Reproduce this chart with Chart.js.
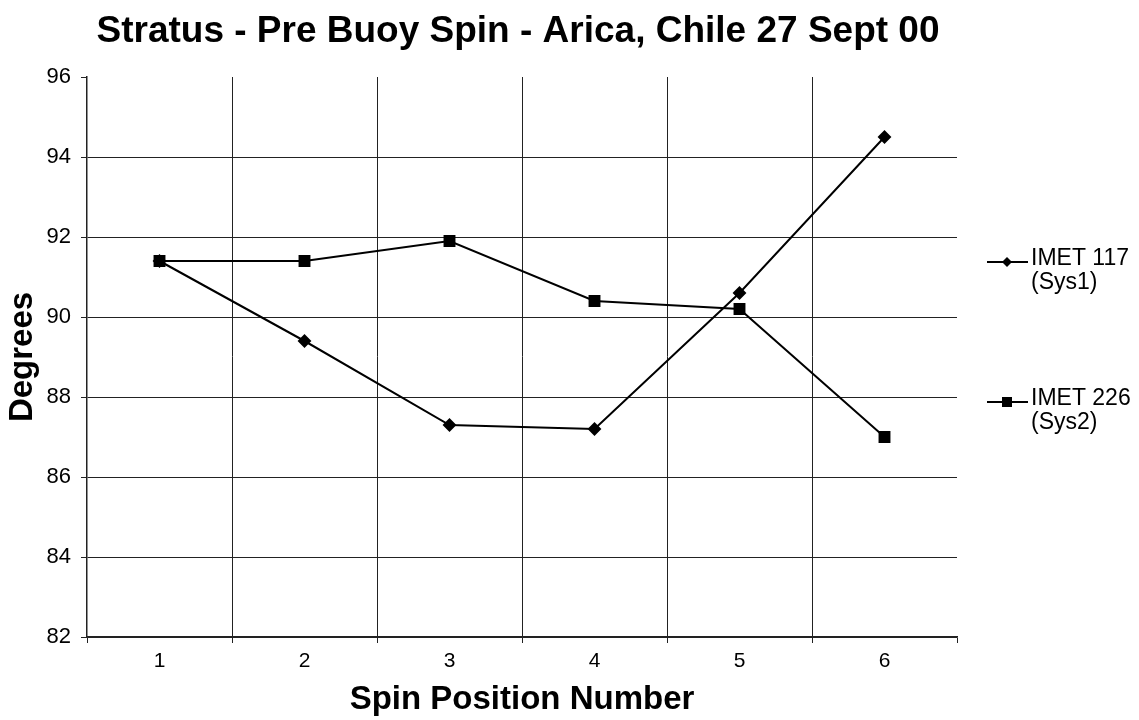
<!DOCTYPE html>
<html>
<head>
<meta charset="utf-8">
<title>Stratus - Pre Buoy Spin</title>
<script src="https://cdn.jsdelivr.net/npm/chart.js@4/dist/chart.umd.min.js"></script>
<style>
  html, body { margin: 0; padding: 0; background: #fff; }
  #wrap { width: 1139px; height: 720px; }
</style>
</head>
<body>
<div id="wrap"><canvas id="chart"></canvas></div>
<script>
const positions = ["1", "2", "3", "4", "5", "6"];
const imet117 = [91.4, 89.4, 87.3, 87.2, 90.6, 94.5];
const imet226 = [91.4, 91.4, 91.9, 90.4, 90.2, 87.0];
const legendLines = [["IMET 117", "(Sys1)"], ["IMET 226", "(Sys2)"]];
const yTicks = [82, 84, 86, 88, 90, 92, 94, 96];

const FONT = "'Liberation Sans', Arial, Helvetica, sans-serif";
const CLEAR = "rgba(0,0,0,0)";

// title drawn by hand so it can sit where the original does
const chartTitle = {
  id: "chartTitle",
  afterDraw(chart) {
    const ctx = chart.ctx;
    ctx.save();
    ctx.fillStyle = "#000";
    ctx.font = `bold 37px ${FONT}`;
    ctx.textAlign = "center";
    ctx.textBaseline = "alphabetic";
    ctx.fillText("Stratus - Pre Buoy Spin - Arica, Chile 27 Sept 00", 518, 42);
    ctx.restore();
  },
};

// excel style legend on the right, two text lines per entry
const sideLegend = {
  id: "sideLegend",
  afterDraw(chart) {
    const ctx = chart.ctx;
    ctx.save();
    chart.data.datasets.forEach((ds, i) => {
      const y = 262 + i * 140;
      ctx.strokeStyle = "#000";
      ctx.lineWidth = 2;
      ctx.beginPath();
      ctx.moveTo(987, y);
      ctx.lineTo(1028, y);
      ctx.stroke();
      ctx.fillStyle = "#000";
      const cx = 1007;
      if (ds.pointStyle === "rect") {
        ctx.fillRect(cx - 5, y - 5, 10, 10);
      } else {
        ctx.beginPath();
        ctx.moveTo(cx, y - 5);
        ctx.lineTo(cx + 5, y);
        ctx.lineTo(cx, y + 5);
        ctx.lineTo(cx - 5, y);
        ctx.closePath();
        ctx.fill();
      }
      ctx.font = `23px ${FONT}`;
      ctx.textAlign = "left";
      ctx.textBaseline = "alphabetic";
      legendLines[i].forEach((line, j) => {
        ctx.fillText(line, 1031, y + 3 + j * 24);
      });
    });
    ctx.restore();
  },
};

const config = {
  type: "line",
  data: {
    labels: positions,
    datasets: [
      {
        label: legendLines[0].join(" "),
        data: imet117,
        borderColor: "#000",
        backgroundColor: "#000",
        borderWidth: 2,
        pointStyle: "rectRot",
        pointRadius: 5.5,
        pointHoverRadius: 5.5,
        tension: 0,
      },
      {
        label: legendLines[1].join(" "),
        data: imet226,
        borderColor: "#000",
        backgroundColor: "#000",
        borderWidth: 2,
        pointStyle: "rect",
        pointRadius: 7,
        pointHoverRadius: 7,
        tension: 0,
      },
    ],
  },
  options: {
    responsive: true,
    maintainAspectRatio: false,
    animation: false,
    events: [],
    layout: { padding: { top: 77, right: 182, left: 0, bottom: 0 } },
    plugins: {
      legend: { display: false },
      title: { display: false },
      tooltip: { enabled: false },
    },
    scales: {
      x: {
        offset: true,
        afterFit(scale) {
          scale.height = 83;
        },
        grid: {
          offset: true,
          // the last boundary line comes with the scale context, not a tick one
          color: (ctx) => (ctx.type !== "tick" || ctx.index === 0 ? CLEAR : "#222"),
          tickColor: "#222",
          tickLength: 6,
          lineWidth: 1,
        },
        border: { color: "#222", width: 1.5 },
        ticks: {
          color: "#000",
          font: { family: FONT, size: 21 },
          padding: 6,
        },
        title: {
          display: true,
          text: "Spin Position Number",
          color: "#000",
          font: { family: FONT, size: 33, weight: "bold" },
          padding: { top: 0, bottom: 0 },
        },
      },
      y: {
        min: yTicks[0],
        max: yTicks[yTicks.length - 1],
        afterFit(scale) {
          scale.width = 87;
        },
        afterBuildTicks(scale) {
          scale.ticks = yTicks.map((v) => ({ value: v }));
        },
        grid: {
          color: (ctx) => (ctx.tick && ctx.tick.value === yTicks[yTicks.length - 1] ? CLEAR : "#222"),
          tickColor: "#222",
          tickLength: 6,
          lineWidth: 1,
        },
        border: { color: "#222", width: 1.5 },
        ticks: {
          color: "#000",
          font: { family: FONT, size: 22 },
          padding: 10,
        },
        title: {
          display: true,
          text: "Degrees",
          color: "#000",
          font: { family: FONT, size: 33, weight: "bold" },
          padding: { top: 3, bottom: 0 },
        },
      },
    },
  },
  plugins: [chartTitle, sideLegend],
};

const degreesChart = new Chart(document.getElementById("chart"), config);
</script>
</body>
</html>
